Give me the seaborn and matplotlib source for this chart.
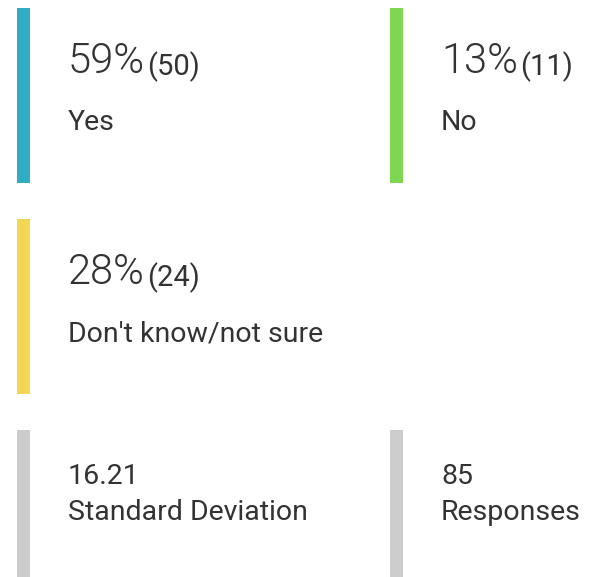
import seaborn as sns
import matplotlib.pyplot as plt

sns.set_theme(style="white")
plt.rcParams['font.family'] = ['Roboto', 'DejaVu Sans']

# answers
answers = ["Yes", "No", "Don't know/not sure"]
percents = [59, 13, 28]
counts = [50, 11, 24]
answer_colors = ["#2eadc4", "#7fd651", "#f2d654"]

# summary stats
stat_values = ["16.21", "85"]
stat_labels = ["Standard Deviation", "Responses"]
stat_color = "#cccccc"

W, H = 591, 577
col_x = [17, 390]
row_top = [8, 219, 430]
bar_w, bar_h = 12.5, 175
txt_dx = 51
ink = "#333333"

fig = plt.figure(figsize=(W / 100, H / 100), dpi=100)
ax = fig.add_axes([0, 0, 1, 1])
ax.set_xlim(0, W)
ax.set_ylim(H, 0)
ax.axis("off")

for i, (lab, p, c) in enumerate(zip(answers, percents, counts)):
    x = col_x[i % 2]
    top = row_top[i // 2]
    ax.bar(x, bar_h, bottom=top, width=bar_w, align="edge",
           color=answer_colors[i], linewidth=0)
    big = ax.text(x + txt_dx, top + 65, f"{p}%", fontsize=30,
                  fontweight=300, color=ink, va="baseline")
    ax.annotate(f"({c})", xy=(1, 0), xycoords=big, xytext=(2, 0),
                textcoords="offset pixels", fontsize=21, color=ink,
                va="bottom", ha="left")
    ax.text(x + txt_dx, top + 122.5, lab, fontsize=20.5, color=ink,
            va="baseline")

for j, (v, lab) in enumerate(zip(stat_values, stat_labels)):
    x = col_x[j]
    top = row_top[2]
    ax.bar(x, bar_h, bottom=top, width=bar_w, align="edge",
           color=stat_color, linewidth=0)
    ax.text(x + txt_dx, top + 54, v, fontsize=20.5, color=ink, va="baseline")
    ax.text(x + txt_dx, top + 90, lab, fontsize=20.5, color=ink, va="baseline")

fig.savefig("out.png", dpi=100)
